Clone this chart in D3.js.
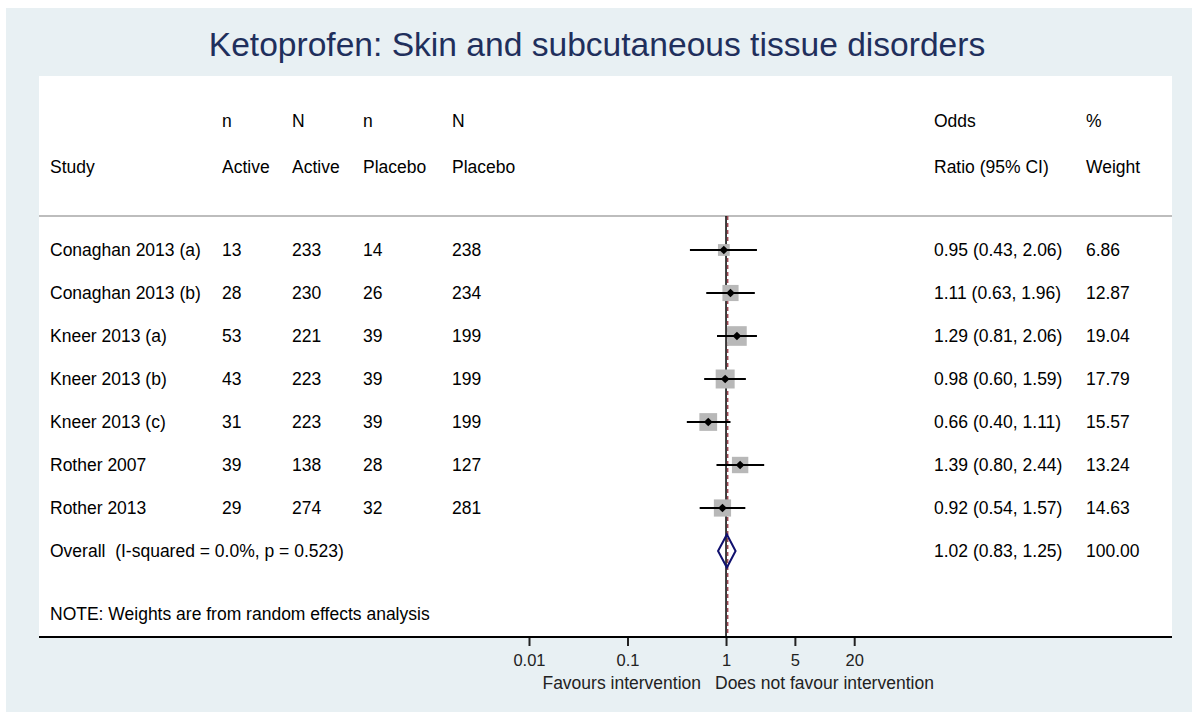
<!DOCTYPE html>
<html>
<head>
<meta charset="utf-8">
<script src="https://cdn.jsdelivr.net/npm/d3@7"></script>
<style>
  body { margin: 0; background: #fff; }
  svg text { font-family: "Liberation Sans", Arial, sans-serif; white-space: pre; }
</style>
</head>
<body>
<div id="chart"></div>
<script>
// study rows
const studies = ["Conaghan 2013 (a)", "Conaghan 2013 (b)", "Kneer 2013 (a)", "Kneer 2013 (b)",
                 "Kneer 2013 (c)", "Rother 2007", "Rother 2013"];
const nActive = [13, 28, 53, 43, 31, 39, 29];
const NActive = [233, 230, 221, 223, 223, 138, 274];
const nPlacebo = [14, 26, 39, 39, 39, 28, 32];
const NPlacebo = [238, 234, 199, 199, 199, 127, 281];
const oddsRatio = [0.95, 1.11, 1.29, 0.98, 0.66, 1.39, 0.92];
const ciLow = [0.43, 0.63, 0.81, 0.60, 0.40, 0.80, 0.54];
const ciHigh = [2.06, 1.96, 2.06, 1.59, 1.11, 2.44, 1.57];
const weights = [6.86, 12.87, 19.04, 17.79, 15.57, 13.24, 14.63];

// pooled estimate
const overallLabel = "Overall  (I-squared = 0.0%, p = 0.523)";
const overall = { or: 1.02, lo: 0.83, hi: 1.25, weight: 100.00 };

const headerTop = ["n", "N", "n", "N"];
const headerBottom = ["Active", "Active", "Placebo", "Placebo"];
const tickValues = [0.01, 0.1, 1, 5, 20];
const tickLabels = ["0.01", "0.1", "1", "5", "20"];

const width = 1192, height = 718;
const plot = { left: 39, right: 1172, top: 76, bottom: 637 };
const colX = { study: 50, nA: 222, NA: 292, nP: 363, NP: 452, or: 934, wt: 1086 };
const fs = 17.5;

const svg = d3.select("#chart").append("svg")
    .attr("width", width)
    .attr("height", height);

// outer background + white plot region
svg.append("rect")
    .attr("x", 6).attr("y", 8)
    .attr("width", width - 6).attr("height", height - 14)
    .attr("fill", "#e8f0f3");
svg.append("rect")
    .attr("x", plot.left).attr("y", plot.top)
    .attr("width", plot.right - plot.left).attr("height", plot.bottom - plot.top)
    .attr("fill", "#fff");

// title
svg.append("text")
    .attr("x", 597)
    .attr("y", 44)
    .attr("dy", "0.35em")
    .attr("text-anchor", "middle")
    .style("font-size", "33.6px")
    .attr("fill", "#1f2f5c")
    .text("Ketoprofen: Skin and subcutaneous tissue disorders");

const x = d3.scaleLog().domain([0.01, 20]).range([529, 854.2]);

// row positions
const rowY = d3.scalePoint()
    .domain(d3.range(studies.length + 1))
    .range([250, 250 + 43 * studies.length]);

const txt = (px, py, s, anchor) => svg.append("text")
    .attr("x", px).attr("y", py)
    .attr("dy", "0.35em")
    .attr("text-anchor", anchor || "start")
    .style("font-size", fs + "px")
    .attr("fill", "#000")
    .text(s);

// headers
const hx = [colX.nA, colX.NA, colX.nP, colX.NP];
headerTop.forEach((h, i) => txt(hx[i], 121, h));
headerBottom.forEach((h, i) => txt(hx[i], 167, h));
txt(colX.study, 167, "Study");
txt(colX.or, 121, "Odds");
txt(colX.or, 167, "Ratio (95% CI)");
txt(colX.wt, 121, "%");
txt(colX.wt, 167, "Weight");

// grey separator
svg.append("line")
    .attr("x1", plot.left).attr("x2", plot.right)
    .attr("y1", 216).attr("y2", 216)
    .attr("stroke", "#bdbdbd").attr("stroke-width", 2);

// null line
svg.append("line")
    .attr("x1", x(1)).attr("x2", x(1))
    .attr("y1", 216).attr("y2", plot.bottom)
    .attr("stroke", "#000").attr("stroke-width", 1.5);

// overall dashed line
svg.append("line")
    .attr("x1", x(overall.or) + 0.8).attr("x2", x(overall.or) + 0.8)
    .attr("y1", 216).attr("y2", plot.bottom)
    .attr("stroke", "#a04a55").attr("stroke-width", 1.5)
    .attr("stroke-dasharray", "4,3");

const fmt = d3.format(".2f");

studies.forEach((s, i) => {
    const y = rowY(i);
    txt(colX.study, y, s);
    txt(colX.nA, y, nActive[i]);
    txt(colX.NA, y, NActive[i]);
    txt(colX.nP, y, nPlacebo[i]);
    txt(colX.NP, y, NPlacebo[i]);
    txt(colX.or, y, `${fmt(oddsRatio[i])} (${fmt(ciLow[i])}, ${fmt(ciHigh[i])})`);
    txt(colX.wt, y, fmt(weights[i]));

    const side = 4.5 * Math.sqrt(weights[i]);
    svg.append("rect")
        .attr("x", x(oddsRatio[i]) - side / 2)
        .attr("y", y - side / 2)
        .attr("width", side).attr("height", side)
        .attr("fill", "#b8b8b8");
    svg.append("line")
        .attr("x1", x(ciLow[i])).attr("x2", x(ciHigh[i]))
        .attr("y1", y).attr("y2", y)
        .attr("stroke", "#000").attr("stroke-width", 2);
    svg.append("path")
        .attr("transform", `translate(${x(oddsRatio[i])},${y}) rotate(45)`)
        .attr("d", d3.symbol().type(d3.symbolSquare).size(38)())
        .attr("fill", "#000");
});

// overall row
const oy = rowY(studies.length);
txt(colX.study, oy, overallLabel);
txt(colX.or, oy, `${fmt(overall.or)} (${fmt(overall.lo)}, ${fmt(overall.hi)})`);
txt(colX.wt, oy, fmt(overall.weight));
svg.append("path")
    .attr("d", d3.line()([
        [x(overall.lo), oy], [x(overall.or), oy - 16.5],
        [x(overall.hi), oy], [x(overall.or), oy + 16.5]
    ]) + "Z")
    .attr("fill", "none")
    .attr("stroke", "#10106e")
    .attr("stroke-width", 2);

txt(colX.study, 614, "NOTE: Weights are from random effects analysis");

// x axis
const xAxis = d3.axisBottom(x)
    .tickValues(tickValues)
    .tickFormat((d, i) => tickLabels[i])
    .tickSize(9)
    .tickPadding(8);
const gAxis = svg.append("g")
    .attr("transform", `translate(0,${plot.bottom})`)
    .call(xAxis);
gAxis.select(".domain").remove();
gAxis.selectAll(".tick line").attr("stroke", "#222").attr("stroke-width", 2);
gAxis.selectAll(".tick text")
    .attr("fill", "#222")
    .style("font-size", "16.5px")
    .style("font-family", "'Liberation Sans', Arial, sans-serif");

svg.append("line")
    .attr("x1", plot.left).attr("x2", plot.right)
    .attr("y1", plot.bottom).attr("y2", plot.bottom)
    .attr("stroke", "#000").attr("stroke-width", 2);

svg.append("text")
    .attr("x", 701).attr("y", 683).attr("dy", "0.35em")
    .attr("text-anchor", "end")
    .style("font-size", fs + "px")
    .attr("fill", "#222")
    .text("Favours intervention");
svg.append("text")
    .attr("x", 715).attr("y", 683).attr("dy", "0.35em")
    .style("font-size", fs + "px")
    .attr("fill", "#222")
    .text("Does not favour intervention");
</script>
</body>
</html>
